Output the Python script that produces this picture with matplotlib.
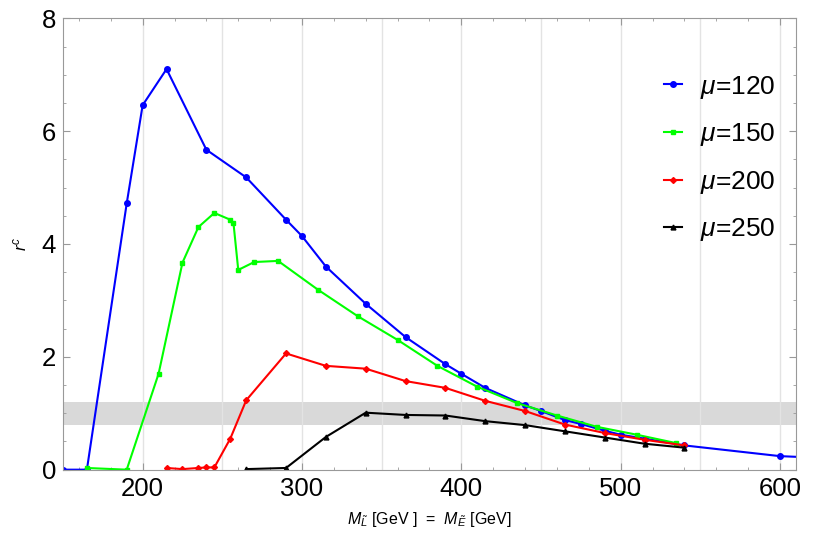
import numpy as np
import matplotlib
matplotlib.use("Agg")
import matplotlib.pyplot as plt
from matplotlib.ticker import MultipleLocator

plt.rcParams['font.family'] = ['Liberation Sans', 'DejaVu Sans']
plt.rcParams['mathtext.fontset'] = 'custom'
plt.rcParams['mathtext.rm'] = 'Liberation Sans'
plt.rcParams['mathtext.it'] = 'Liberation Sans:italic'

# data
x_120 = [150, 165, 190, 200, 215, 240, 265, 290, 300, 315, 340, 365, 390, 400,
         415, 440, 450, 465, 475, 490, 500, 515, 540, 600, 650]
y_120 = [0.0, 0.0, 4.72, 6.46, 7.10, 5.67, 5.18, 4.43, 4.14, 3.60, 2.94, 2.35,
         1.87, 1.70, 1.45, 1.14, 1.04, 0.88, 0.81, 0.69, 0.62, 0.55, 0.43, 0.24, 0.18]

x_150 = [165, 190, 210, 225, 235, 245, 255, 257, 260, 270, 285, 310, 335, 360,
         385, 410, 435, 460, 485, 510, 535]
y_150 = [0.03, 0.0, 1.70, 3.67, 4.30, 4.55, 4.43, 4.37, 3.54, 3.68, 3.70, 3.19,
         2.72, 2.30, 1.84, 1.47, 1.18, 0.96, 0.76, 0.62, 0.47]

x_200 = [215, 225, 235, 240, 245, 255, 265, 290, 315, 340, 365, 390, 415, 440,
         465, 490, 515, 540]
y_200 = [0.03, 0.01, 0.03, 0.04, 0.04, 0.55, 1.23, 2.06, 1.84, 1.79, 1.57, 1.45,
         1.22, 1.04, 0.80, 0.65, 0.53, 0.43]

x_250 = [265, 290, 315, 340, 365, 390, 415, 440, 465, 490, 515, 540]
y_250 = [0.01, 0.03, 0.58, 1.01, 0.97, 0.96, 0.86, 0.79, 0.68, 0.57, 0.46, 0.39]

band = (0.8, 1.2)
grid_x = np.arange(200, 601, 50)

fig = plt.figure(figsize=(8.18, 5.38), dpi=100)
ax = fig.add_axes([0.077, 0.127, 0.896, 0.839])

ax.axhspan(band[0], band[1], color='#d9d9d9', lw=0, zorder=0)
for gx in grid_x:
    ax.axvline(gx, color='#e3e3e3', lw=1, zorder=0.5)

ax.plot(x_120, y_120, color='#0000ff', lw=1.5, marker='o', ms=4, label=r'$\mu$=120')
ax.plot(x_150, y_150, color='#00ff00', lw=1.5, marker='s', ms=2.5, label=r'$\mu$=150')
ax.plot(x_200, y_200, color='#ff0000', lw=1.5, marker='D', ms=3, label=r'$\mu$=200')
ax.plot(x_250, y_250, color='black', lw=1.5, marker='^', ms=3.5, label=r'$\mu$=250')

ax.set_xlim(150, 610)
ax.set_ylim(0, 8)
ax.xaxis.set_major_locator(MultipleLocator(100))
ax.xaxis.set_minor_locator(MultipleLocator(20))
ax.yaxis.set_major_locator(MultipleLocator(2))
ax.yaxis.set_minor_locator(MultipleLocator(0.5))
ax.tick_params(which='both', direction='in', top=True, right=True,
               color='#999999', labelsize=18.5, pad=5)
ax.tick_params(which='major', length=5, width=0.8)
ax.tick_params(which='minor', length=2.5, width=0.6)
for s in ax.spines.values():
    s.set_color('#999999')
    s.set_linewidth(0.8)

ax.set_xlabel(r'$M_{\tilde{L}}$ [GeV ]  =  $M_{\tilde{E}}$ [GeV]', fontsize=11.5, labelpad=7)
ax.set_ylabel(r'$r^c$', fontsize=12, labelpad=9)

ax.legend(loc='upper left', bbox_to_anchor=(0.787, 0.93), frameon=False,
          fontsize=19, handlelength=0.7, handletextpad=0.7, labelspacing=0.78)

fig.savefig('out.png', dpi=100)
